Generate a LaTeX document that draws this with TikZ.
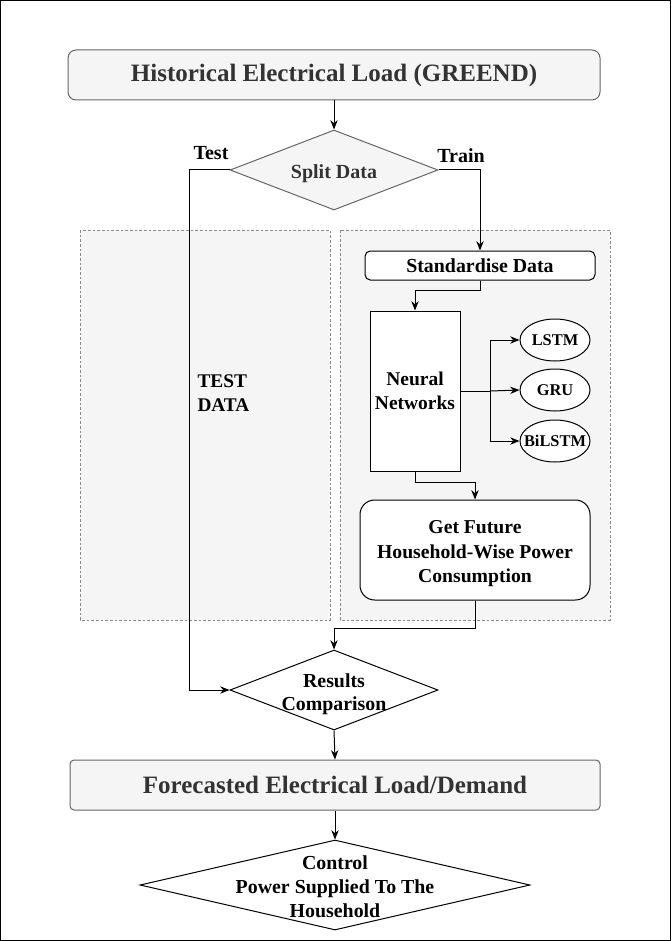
\documentclass[tikz,border=0pt]{standalone}
\usepackage{fontspec}
\setmainfont{Liberation Serif}
\usetikzlibrary{shapes.geometric,arrows.meta}
\definecolor{boxgray}{HTML}{F5F5F5}
\definecolor{edgegray}{HTML}{666666}
\definecolor{textgray}{HTML}{333333}
\definecolor{dashgray}{HTML}{888888}

\begin{document}
\begin{tikzpicture}[x=0.75pt,y=-0.75pt,line width=0.75pt,
	>={Stealth[length=7pt,width=5.5pt]},
	every node/.style={inner sep=0pt,align=center},
	titlebox/.style={draw=edgegray,fill=boxgray,text=textgray,font=\bfseries\fontsize{18.75}{22}\selectfont},
	stepbox/.style={draw,fill=white,font=\bfseries\fontsize{14.9}{18}\selectfont},
	choice/.style={diamond,draw,fill=white},
	model/.style={ellipse,draw,fill=white,minimum width=52.5pt,minimum height=31.5pt},
	modeltext/.style={font=\bfseries\fontsize{12.3}{14}\selectfont},
	region/.style={draw=dashgray,fill=boxgray,dash pattern=on 2pt off 1.5pt,line width=0.5pt},
	tag/.style={font=\bfseries\fontsize{15}{18}\selectfont}]
	\useasboundingbox (0,0) rectangle (671,941);
	\draw[line width=0.75pt] (0.5,0.5) rectangle (670.5,940.5);

	% dashed areas
	\draw[region] (80,230) rectangle (330,620);
	\draw[region] (340,230) rectangle (610,620);

	% main column
	\node[titlebox,rounded corners=6pt,minimum width=399pt,minimum height=37.5pt] (hist) at (334,75) {Historical Electrical Load (GREEND)};
	\node[choice,draw=edgegray,fill=boxgray,minimum width=156pt,minimum height=60pt,
		label={[tag,text=textgray,yshift=-3pt]center:Split Data}] (split) at (334,170) {};
	\node[tag] (test) at (211,153) {Test};
	\node[tag] (train) at (461,156) {Train};
	\node[font=\bfseries\fontsize{14.5}{18}\selectfont,align=left,anchor=west] (testdata) at (197,393) {TEST\\DATA};

	% training side
	\node[stepbox,rounded corners=4pt,minimum width=172.5pt,minimum height=21.75pt] (stand) at (480,265.5) {Standardise Data};
	\node[stepbox,minimum width=67.5pt,minimum height=120pt,font=\bfseries\fontsize{14.6}{18}\selectfont] (nn) at (415,391) {Neural\\Networks};
	\node[model,label={[modeltext]center:LSTM}] (lstm) at (555,340) {};
	\node[model,label={[modeltext]center:GRU}] (gru) at (555,390) {};
	\node[model,label={[modeltext]center:BiLSTM}] (bilstm) at (555,441) {};
	\node[stepbox,rounded corners=11pt,minimum width=172.5pt,minimum height=75pt,
		label={[font=\bfseries\fontsize{14.75}{18.4}\selectfont,align=center,yshift=-3pt]center:Get Future\\Household-Wise Power\\Consumption}] (future) at (475,550) {};

	\node[choice,minimum width=156pt,minimum height=60pt,
		label={[font=\bfseries\fontsize{14.9}{17.3}\selectfont,align=center,yshift=-3pt]center:Results\\Comparison}] (results) at (334,690) {};
	\node[titlebox,rounded corners=3pt,minimum width=397.5pt,minimum height=37.5pt] (fore) at (335,785) {Forecasted Electrical Load/Demand};
	\node[choice,minimum width=292.5pt,minimum height=67.5pt,
		label={[font=\bfseries\fontsize{14.9}{18}\selectfont,align=center,yshift=-1pt]center:Control\\Power Supplied To The\\Household}] (control) at (335,885) {};

	% connectors
	\draw[->] (hist.south) -- (split.north);
	\draw[->] (split.east) -| (stand.north);
	\draw[->] (split.west) -- ++(-40,0) |- (results.west);
	\draw[->] (stand.south) -- ++(0,10) -| (nn.north);
	\draw (nn.east) -- ++(30,0) coordinate (fork);
	\draw[->] (fork) |- (lstm.west);
	\draw[->] (fork) -- (gru.west);
	\draw[->] (fork) |- (bilstm.west);
	\draw[->] (nn.south) -- ++(0,11) -| (future.north);
	\draw[->] (future.south) -- ++(0,28) -| (results.north);
	\draw[->] (results.south) -- (fore.north);
	\draw[->] (fore.south) -- (control.north);
\end{tikzpicture}
\end{document}
